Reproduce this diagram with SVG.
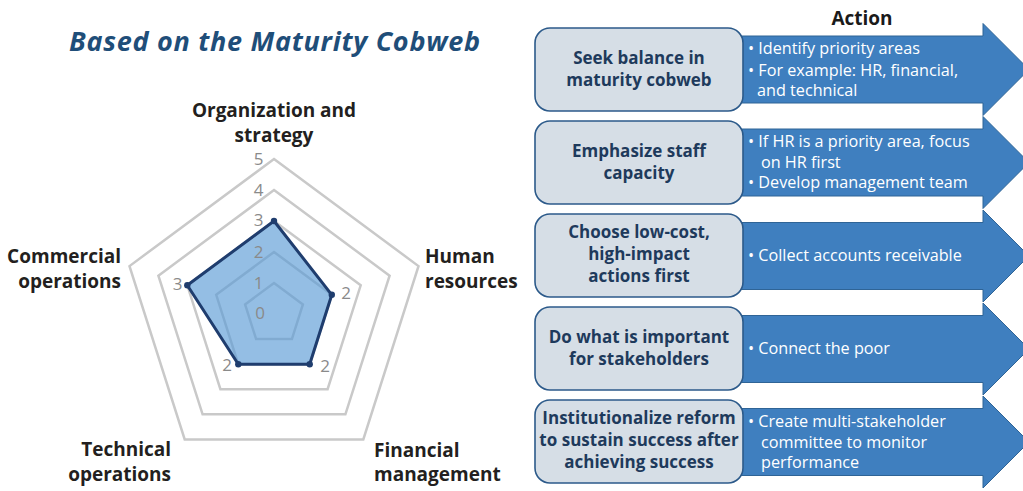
<svg xmlns="http://www.w3.org/2000/svg" width="1023" height="491" viewBox="0 0 1023 491">
<style>
  .title{font-family:"Open Sans","Noto Sans",sans-serif;font-weight:bold;font-style:italic;font-size:27px;fill:#1f4e79}
  .axis{font-family:"Open Sans","Noto Sans",sans-serif;font-weight:bold;font-size:19px;fill:#231f20}
  .tick{font-family:"Open Sans","Noto Sans",sans-serif;font-size:17px;fill:#8a8a8a;text-anchor:middle}
  .grid{fill:none;stroke:#c9c9c9;stroke-width:2.5;stroke-linejoin:miter}
  .data{fill:#5b9bd5;fill-opacity:0.65;stroke:#1f3d6e;stroke-width:3;stroke-linejoin:round}
  .dot{fill:#1f3d6e}
  .arrow{fill:#3f7fbf;stroke:#2f6496;stroke-width:1}
  .box{fill:#d6dee6;stroke:#2c5a8a;stroke-width:1.6}
  .btxt{font-family:"Open Sans","Noto Sans",sans-serif;font-weight:bold;font-size:17px;fill:#1e3a5c;text-anchor:middle}
  .atxt{font-family:"Open Sans","Noto Sans",sans-serif;font-size:16.2px;fill:#ffffff}
  .head{font-family:"Open Sans","Noto Sans",sans-serif;font-weight:bold;font-size:19px;fill:#1a1a1a;text-anchor:middle}
</style>

<g id="title">
  <text class="title" x="69" y="51" textLength="411" lengthAdjust="spacing">Based on the Maturity Cobweb</text>
</g>

<g id="radar">
  <polygon class="grid" points="274,159 418.5,266.1 363.3,439.4 184.7,439.4 129.5,266.1"/>
  <polygon class="grid" points="274,190 389.6,275.7 345.4,414.3 202.6,414.3 158.4,275.7"/>
  <polygon class="grid" points="274,221 360.7,285.3 327.6,389.2 220.4,389.2 187.3,285.3"/>
  <polygon class="grid" points="274,252 331.8,294.8 309.7,364.2 238.3,364.2 216.2,294.8"/>
  <polygon class="grid" points="274,283 302.9,304.4 291.9,339.1 256.1,339.1 245.1,304.4"/>
  <polygon class="data" points="274,221 331.8,294.8 309.7,364.2 238.3,364.2 187.3,285.3"/>
  <circle class="dot" cx="274" cy="221" r="3.2"/>
  <circle class="dot" cx="331.8" cy="294.8" r="3.2"/>
  <circle class="dot" cx="309.7" cy="364.2" r="3.2"/>
  <circle class="dot" cx="238.3" cy="364.2" r="3.2"/>
  <circle class="dot" cx="187.3" cy="285.3" r="3.2"/>
  <text class="tick" x="258.5" y="164.5">5</text>
  <text class="tick" x="258.5" y="196">4</text>
  <text class="tick" x="258.5" y="226">3</text>
  <text class="tick" x="258.5" y="258">2</text>
  <text class="tick" x="258.5" y="289">1</text>
  <text class="tick" x="260" y="319">0</text>
  <text class="tick" x="177.5" y="290">3</text>
  <text class="tick" x="346" y="299">2</text>
  <text class="tick" x="325" y="372">2</text>
  <text class="tick" x="227" y="371">2</text>
</g>

<g id="label-org">
  <text class="axis" x="274" y="117" text-anchor="middle">Organization and</text>
  <text class="axis" x="274" y="142" text-anchor="middle">strategy</text>
</g>
<g id="label-hr">
  <text class="axis" x="425" y="263">Human</text>
  <text class="axis" x="425" y="288">resources</text>
</g>
<g id="label-fin">
  <text class="axis" x="374" y="456.5">Financial</text>
  <text class="axis" x="374" y="481">management</text>
</g>
<g id="label-tech">
  <text class="axis" x="171" y="456" text-anchor="end">Technical</text>
  <text class="axis" x="171" y="480.5" text-anchor="end">operations</text>
</g>
<g id="label-comm">
  <text class="axis" x="121" y="263" text-anchor="end">Commercial</text>
  <text class="axis" x="121" y="288" text-anchor="end">operations</text>
</g>

<g id="action-header">
  <text class="head" x="862" y="25">Action</text>
</g>

<g id="row1">
  <path class="arrow" d="M730,36 H983 V23.5 L1029,69.5 L983,115.5 V103 H730 Z"/>
  <rect class="box" x="535" y="28" width="208" height="83" rx="15"/>
  <text class="btxt" x="639" y="63.5">Seek balance in</text>
  <text class="btxt" x="639" y="85.5">maturity cobweb</text>
  <text class="atxt" x="748" y="53.5">• Identify priority areas</text>
  <text class="atxt" x="748" y="75.5">• For example: HR, financial,</text>
  <text class="atxt" x="757" y="96">and technical</text>
</g>

<g id="row2">
  <path class="arrow" d="M730,129 H983 V116.5 L1029,162.5 L983,208.5 V196 H730 Z"/>
  <rect class="box" x="535" y="121" width="208" height="83" rx="15"/>
  <text class="btxt" x="639" y="156.5">Emphasize staff</text>
  <text class="btxt" x="639" y="178.5">capacity</text>
  <text class="atxt" x="748" y="147">• If HR is a priority area, focus</text>
  <text class="atxt" x="761" y="167.5">on HR first</text>
  <text class="atxt" x="748" y="188">• Develop management team</text>
</g>

<g id="row3">
  <path class="arrow" d="M730,222.5 H983 V210 L1029,256 L983,302 V289.5 H730 Z"/>
  <rect class="box" x="535" y="214" width="208" height="83" rx="15"/>
  <text class="btxt" x="639" y="238">Choose low-cost,</text>
  <text class="btxt" x="639" y="260">high-impact</text>
  <text class="btxt" x="639" y="282">actions first</text>
  <text class="atxt" x="748" y="261">• Collect accounts receivable</text>
</g>

<g id="row4">
  <path class="arrow" d="M730,315.5 H983 V303 L1029,349 L983,395 V382.5 H730 Z"/>
  <rect class="box" x="535" y="307" width="208" height="83" rx="15"/>
  <text class="btxt" x="639" y="343">Do what is important</text>
  <text class="btxt" x="639" y="365">for stakeholders</text>
  <text class="atxt" x="748" y="354">• Connect the poor</text>
</g>

<g id="row5">
  <path class="arrow" d="M730,408.5 H983 V396 L1029,442 L983,488 V475.5 H730 Z"/>
  <rect class="box" x="535" y="400" width="208" height="83" rx="15"/>
  <text class="btxt" x="639" y="424">Institutionalize reform</text>
  <text class="btxt" x="639" y="446">to sustain success after</text>
  <text class="btxt" x="639" y="468">achieving success</text>
  <text class="atxt" x="748" y="427">• Create multi-stakeholder</text>
  <text class="atxt" x="761" y="447.5">committee to monitor</text>
  <text class="atxt" x="761" y="468">performance</text>
</g>
</svg>
